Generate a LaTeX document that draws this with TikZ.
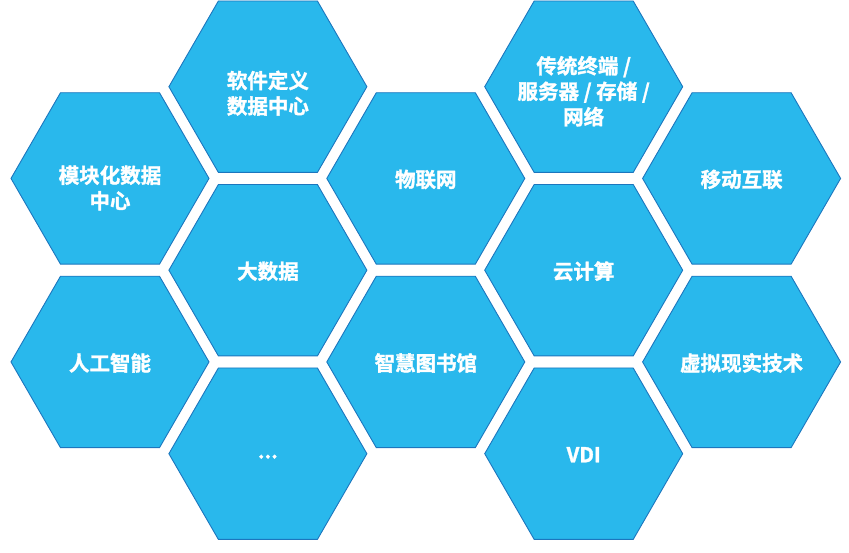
\documentclass[tikz,border=0pt]{standalone}
\usepackage{fontspec}
\newfontfamily\cjk{Noto Sans CJK SC}[BoldFont={Noto Sans CJK SC Bold},BoldFeatures={FakeBold=1.5}]
\usetikzlibrary{shapes.geometric}
\definecolor{hexfill}{RGB}{41,184,236}
\definecolor{hexline}{RGB}{28,118,190}

\begin{document}
\begin{tikzpicture}[x=1pt,y=-1pt,
		hex/.style={regular polygon, regular polygon sides=6, minimum size=198pt,
			inner sep=0pt, fill=hexfill, draw=hexline, line width=0.9pt},
		lbl/.style={text=white, align=center, inner sep=0pt,
			font=\cjk\bfseries\fontsize{20.5}{25.5}\selectfont}]
			\def \hor{ 157.9 };
			\def \ver{ 91.75 };
			\def \xo{ 110 };
			\def \yo{ 86.7 };
			\useasboundingbox (0,0) rectangle (849,553);
			\node[hex] (0) at (\xo+0*\hor,\yo+1*\ver) {};
			\node[hex] (1) at (\xo+0*\hor,\yo+3*\ver) {};
			\node[hex] (2) at (\xo+1*\hor,\yo+0*\ver) {};
			\node[hex] (3) at (\xo+1*\hor,\yo+2*\ver) {};
			\node[hex] (4) at (\xo+1*\hor,\yo+4*\ver) {};
			\node[hex] (5) at (\xo+2*\hor,\yo+1*\ver) {};
			\node[hex] (6) at (\xo+2*\hor,\yo+3*\ver) {};
			\node[hex] (7) at (\xo+3*\hor,\yo+0*\ver) {};
			\node[hex] (8) at (\xo+3*\hor,\yo+2*\ver) {};
			\node[hex] (9) at (\xo+3*\hor,\yo+4*\ver) {};
			\node[hex] (10) at (\xo+4*\hor,\yo+1*\ver) {};
			\node[hex] (11) at (\xo+4*\hor,\yo+3*\ver) {};
			\node[lbl] (t0) at ([yshift=-9.5pt]0.center) {模块化数据\\中心};
			\node[lbl] (t1) at ([yshift=-1pt]1.center) {人工智能};
			\node[lbl] (t2) at ([yshift=-6.5pt]2.center) {软件定义\\数据中心};
			\node[lbl] (t3) at ([yshift=-1pt]3.center) {大数据};
			\node[lbl] (t4) at ([yshift=-3pt]4.center) {...};
			\node[lbl] (t5) at ([yshift=-1pt]5.center) {物联网};
			\node[lbl] (t6) at ([yshift=-1pt]6.center) {智慧图书馆};
			\node[lbl] (t7) at ([yshift=-4.5pt]7.center) {传统终端 /\\服务器 / 存储 /\\网络};
			\node[lbl] (t8) at ([yshift=-1pt]8.center) {云计算};
			\node[lbl] (t9) at ([yshift=-1pt]9.center) {VDI};
			\node[lbl] (t10) at ([yshift=-1pt]10.center) {移动互联};
			\node[lbl] (t11) at ([yshift=-1pt]11.center) {虚拟现实技术};
		\end{tikzpicture}
\end{document}
